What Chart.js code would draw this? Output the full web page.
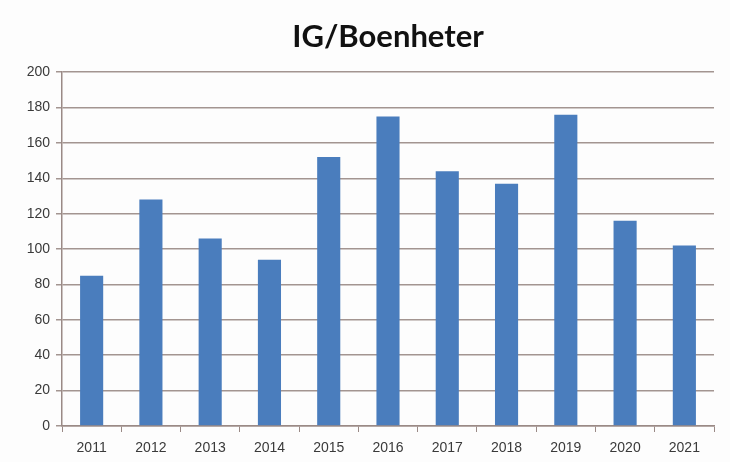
<!DOCTYPE html>
<html>
<head>
<meta charset="utf-8">
<script src="https://cdn.jsdelivr.net/npm/chart.js@4"></script>
<style>
  html, body { margin: 0; padding: 0; background: #fdfdfd; }
  #wrap { width: 730px; height: 462px; }
</style>
</head>
<body>
<div id="wrap"><canvas id="igChart" width="730" height="462"></canvas></div>
<script>
// Data
const years = ['2011', '2012', '2013', '2014', '2015', '2016', '2017', '2018', '2019', '2020', '2021']
const boenheter = [85, 128, 106, 94, 152, 175, 144, 137, 176, 116, 102]
const yTicks = [0, 20, 40, 60, 80, 100, 120, 140, 160, 180, 200]

const bgPlugin = {
  id: 'bg',
  beforeDraw: (chart) => {
    const c = chart.ctx
    c.save()
    c.fillStyle = '#fdfdfd'
    c.fillRect(0, 0, chart.width, chart.height)
    c.restore()
  }
}

const ctx = document.getElementById('igChart').getContext('2d')
new Chart(ctx, {
  type: 'bar',
  data: {
    labels: years,
    datasets: [
      {
        label: 'IG/Boenheter',
        data: boenheter,
        backgroundColor: '#4a7dbd',
        barPercentage: 0.39,
        categoryPercentage: 1
      }
    ]
  },
  options: {
    responsive: false,
    animation: false,
    layout: { padding: { top: 0, right: 16, bottom: 0, left: 0 } },
    plugins: {
      legend: { display: false },
      tooltip: { enabled: false },
      title: {
        display: true,
        fullSize: false,
        text: 'IG/Boenheter',
        color: '#111',
        font: { family: 'Lato', size: 31, weight: 'bold' },
        padding: { top: 18, bottom: 17 }
      }
    },
    scales: {
      x: {
        afterFit: (scale) => {
          scale.height = 36
        },
        grid: {
          drawOnChartArea: false,
          tickLength: 6,
          color: '#9a8a86',
          offset: true
        },
        border: { color: '#9a8a86', width: 1.5 },
        ticks: {
          color: '#3a3a3a',
          font: { family: 'Liberation Sans', size: 14 },
          padding: 8,
          maxRotation: 0
        }
      },
      y: {
        min: 0,
        max: 200,
        afterBuildTicks: (scale) => {
          scale.ticks = yTicks.map((v) => ({ value: v }))
        },
        afterFit: (scale) => {
          scale.width = 62
        },
        grid: {
          color: '#a39591',
          lineWidth: 1.5,
          tickLength: 6
        },
        border: { color: '#9a8a86', width: 1.5 },
        ticks: {
          color: '#3a3a3a',
          font: { family: 'Liberation Sans', size: 14 },
          padding: 6
        }
      }
    }
  },
  plugins: [bgPlugin]
})
</script>
</body>
</html>
